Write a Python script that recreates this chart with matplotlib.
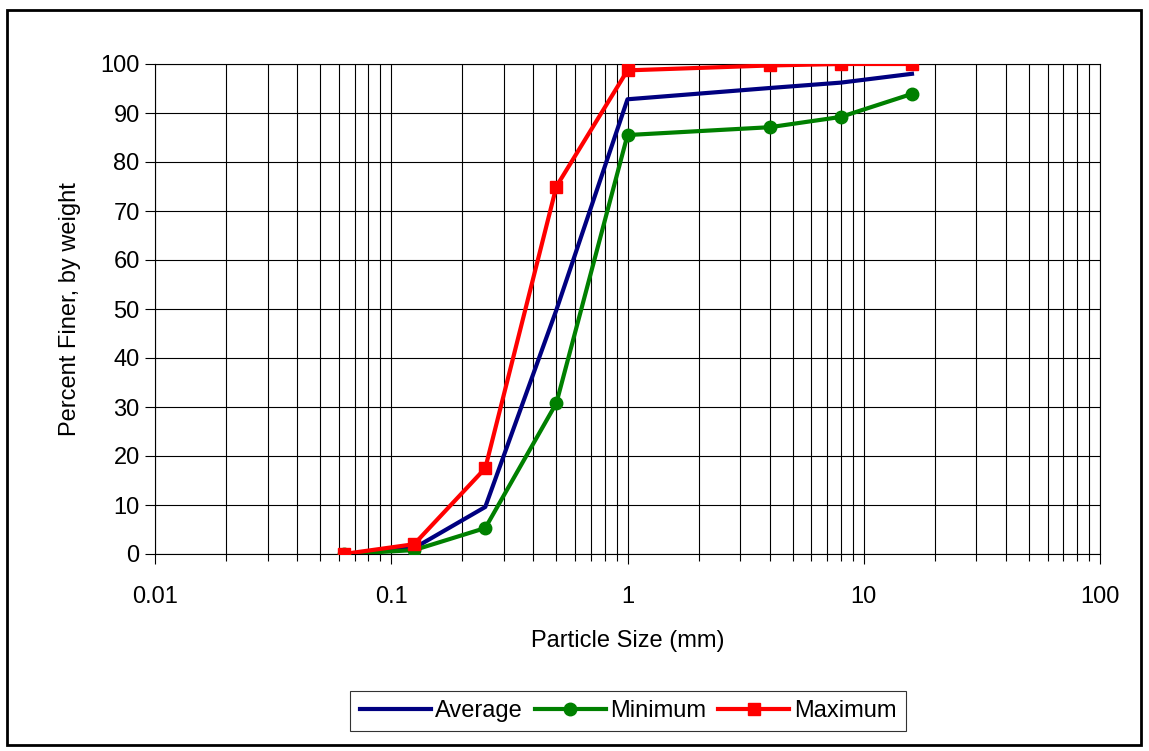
import matplotlib.pyplot as plt
from matplotlib.patches import Rectangle
from matplotlib.ticker import LogLocator, FixedLocator, NullFormatter

# ==========================================================
# DATA
# ==========================================================

sizes_mm = [0.063, 0.125, 0.25, 0.5, 1, 4, 8, 16]

average = [0, 1.2, 9.6, 49.8, 92.8, 95.1, 96.2, 98.0]
minimum = [0, 0.8, 5.3, 30.8, 85.5, 87.1, 89.2, 93.9]
maximum = [0, 2.0, 17.5, 75.0, 98.7, 99.7, 100, 100]

x_ticks = [0.01, 0.1, 1, 10, 100]
x_tick_labels = ["0.01", "0.1", "1", "10", "100"]

# ==========================================================
# FIGURE
# ==========================================================

plt.rcParams["font.family"] = ["Liberation Sans", "DejaVu Sans"]

fig = plt.figure(figsize=(11.49, 7.51), dpi=100)

ax = fig.add_axes([155 / 1149, 1 - 554 / 751, 945 / 1149, 490 / 751])

ax.plot(sizes_mm, average, color="#000080", lw=3, label="Average", zorder=3)
ax.plot(sizes_mm, minimum, color="#008000", lw=3, marker="o", ms=9,
        label="Minimum", zorder=3)
ax.plot(sizes_mm, maximum, color="#ff0000", lw=3, marker="s", ms=9,
        label="Maximum", zorder=4)

ax.set_xscale("log")
ax.set_xlim(0.01, 100)
ax.set_ylim(0, 100)

ax.xaxis.set_major_locator(FixedLocator(x_ticks))
ax.set_xticklabels(x_tick_labels)
ax.xaxis.set_minor_locator(LogLocator(base=10, subs=range(2, 10), numticks=20))
ax.xaxis.set_minor_formatter(NullFormatter())
ax.set_yticks(range(0, 101, 10))

ax.grid(True, which="major", color="black", lw=0.8)
ax.grid(True, which="minor", axis="x", color="black", lw=0.8)

ax.tick_params(axis="both", which="major", direction="out", length=7,
               width=0.8, labelsize=17)
ax.tick_params(axis="y", which="major", pad=4)
ax.tick_params(axis="x", which="major", pad=16)
ax.tick_params(axis="x", which="minor", direction="out", length=5, width=0.8)

for spine in ax.spines.values():
    spine.set_color("black")
    spine.set_linewidth(0.8)

ax.set_xlabel("Particle Size (mm)", fontsize=17, labelpad=16)
ax.set_ylabel("Percent Finer, by weight", fontsize=17, labelpad=14)

legend = fig.legend(
    loc="center",
    bbox_to_anchor=(628 / 1149, 1 - 711 / 751),
    ncol=3,
    fontsize=17,
    frameon=True,
    fancybox=False,
    edgecolor="black",
    handlelength=3,
    handletextpad=0.2,
    columnspacing=0.5,
    borderpad=0.4,
)
legend.get_frame().set_linewidth(0.8)

# outer chart border
fig.patches.append(Rectangle((7 / 1149, 6 / 751), 1134 / 1149, 735 / 751,
                             transform=fig.transFigure, fill=False,
                             edgecolor="black", lw=2))

fig.savefig("out.png", dpi=100)
